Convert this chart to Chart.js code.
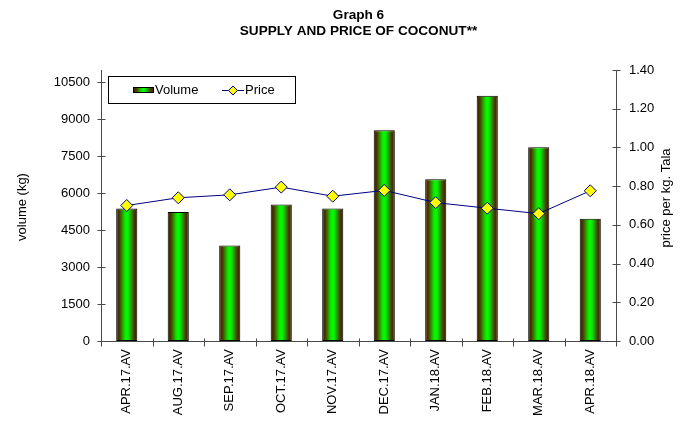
<!DOCTYPE html>
<html lang="en">
<head>
<meta charset="UTF-8">
<title>Graph 6 - Supply and price of coconut</title>
<style>
  html, body { margin: 0; padding: 0; background: #fff; }
  #wrap { width: 685px; height: 421px; }
</style>
</head>
<body>
<div id="wrap"><canvas id="chart" width="685" height="421"></canvas></div>
<script src="https://cdn.jsdelivr.net/npm/chart.js@4.4.1/dist/chart.umd.min.js"></script>
<script>
var months = ["APR.17.AV", "AUG.17.AV", "SEP.17.AV", "OCT.17.AV", "NOV.17.AV",
              "DEC.17.AV", "JAN.18.AV", "FEB.18.AV", "MAR.18.AV", "APR.18.AV"];
var volume = [5380, 5240, 3880, 5540, 5380, 8550, 6570, 9950, 7860, 4960];
var price = [0.70, 0.74, 0.755, 0.795, 0.748, 0.778, 0.715, 0.686, 0.658, 0.776];

var volumeTicks = [0, 1500, 3000, 4500, 6000, 7500, 9000, 10500];
var priceTicks = [0, 0.2, 0.4, 0.6, 0.8, 1.0, 1.2, 1.4];
var volumeMax = 11000, priceMax = 1.4;

var FONT = "Arial, 'Liberation Sans', sans-serif";

function barGradient(ctx, x0, x1) {
  var g = ctx.createLinearGradient(x0, 0, x1, 0);
  g.addColorStop(0, "#3a2000");
  g.addColorStop(0.15, "#4a3800");
  g.addColorStop(0.4, "#10e000");
  g.addColorStop(0.5, "#00ff00");
  g.addColorStop(0.6, "#10e000");
  g.addColorStop(0.85, "#4a3800");
  g.addColorStop(1, "#3a2000");
  return g;
}

// fill each bar with the brown-green-brown gradient (own options object per bar)
var gradientBars = {
  id: "gradientBars",
  beforeDatasetsDraw: function (chart) {
    var meta = chart.getDatasetMeta(0);
    meta.data.forEach(function (bar) {
      var g = barGradient(chart.ctx, bar.x - bar.width / 2, bar.x + bar.width / 2);
      bar.options = Object.assign({}, bar.options, { backgroundColor: g });
    });
  }
};

// axes lines + tick marks like excel (crossing)
var excelAxes = {
  id: "excelAxes",
  afterDraw: function (chart) {
    var ctx = chart.ctx, a = chart.chartArea;
    var y = chart.scales.y, y1 = chart.scales.y1;
    ctx.save();
    ctx.strokeStyle = "#4a4a4a";
    ctx.lineWidth = 1;
    ctx.beginPath();
    var lx = Math.round(a.left) + 0.5, rx = Math.round(a.right) + 0.5, by = Math.round(a.bottom) + 0.5;
    ctx.moveTo(lx, a.top); ctx.lineTo(lx, by);
    ctx.moveTo(rx, a.top); ctx.lineTo(rx, by);
    ctx.moveTo(lx, by); ctx.lineTo(rx, by);
    volumeTicks.forEach(function (v) {
      var py = Math.round(y.getPixelForValue(v)) + 0.5;
      ctx.moveTo(lx - 4, py); ctx.lineTo(lx + 4, py);
    });
    priceTicks.forEach(function (v) {
      var qy = Math.round(y1.getPixelForValue(v)) + 0.5;
      ctx.moveTo(rx - 4, qy); ctx.lineTo(rx + 4, qy);
    });
    var n = months.length, cw = (a.right - a.left) / n;
    for (var k = 0; k <= n; k++) {
      var tx = Math.round(a.left + k * cw) + 0.5;
      ctx.moveTo(tx, by - 3); ctx.lineTo(tx, by + 5);
    }
    ctx.stroke();
    ctx.restore();
  }
};

// titles, axis titles and the boxed legend
var decorations = {
  id: "decorations",
  afterDraw: function (chart) {
    var ctx = chart.ctx, a = chart.chartArea;
    var cx = (a.left + a.right) / 2;
    ctx.save();
    ctx.fillStyle = "#000";
    ctx.textAlign = "center";
    ctx.textBaseline = "middle";
    ctx.font = "bold 13.6px " + FONT;
    ctx.fillText("Graph 6", cx, 15);
    ctx.fillText("SUPPLY AND PRICE OF COCONUT**", cx, 31);

    ctx.font = "13px " + FONT;
    ctx.save();
    ctx.translate(22, 207);
    ctx.rotate(-Math.PI / 2);
    ctx.fillText("volume (kg)", 0, 0);
    ctx.restore();
    ctx.save();
    ctx.translate(666, 198);
    ctx.rotate(-Math.PI / 2);
    ctx.fillText("price per kg. Tala", 0, 0);
    ctx.restore();

    // legend
    ctx.fillStyle = "#fff";
    ctx.fillRect(108, 76, 187, 27);
    ctx.strokeStyle = "#000";
    ctx.lineWidth = 1;
    ctx.strokeRect(108.5, 76.5, 187, 27);
    ctx.fillStyle = barGradient(ctx, 133, 154);
    ctx.fillRect(133, 87, 21, 6);
    ctx.strokeRect(133.5, 87.5, 20, 5);
    ctx.fillStyle = "#000";
    ctx.textAlign = "left";
    ctx.fillText("Volume", 155, 90);
    ctx.strokeStyle = "#000080";
    ctx.beginPath();
    ctx.moveTo(222, 90.5); ctx.lineTo(244, 90.5);
    ctx.stroke();
    ctx.beginPath();
    ctx.moveTo(233, 86); ctx.lineTo(237.5, 90.5); ctx.lineTo(233, 95); ctx.lineTo(228.5, 90.5);
    ctx.closePath();
    ctx.fillStyle = "#ffff00";
    ctx.fill();
    ctx.stroke();
    ctx.fillStyle = "#000";
    ctx.fillText("Price", 245, 90);
    ctx.restore();
  }
};

new Chart(document.getElementById("chart"), {
  type: "bar",
  data: {
    labels: months,
    datasets: [{
      type: "bar",
      label: "Volume",
      data: volume,
      yAxisID: "y",
      backgroundColor: "#00ff00",
      borderColor: "#000",
      borderWidth: 1,
      borderSkipped: false,
      categoryPercentage: 1,
      barPercentage: 0.41,
      order: 1
    }, {
      type: "line",
      label: "Price",
      data: price,
      yAxisID: "y1",
      borderColor: "#000080",
      borderWidth: 1,
      pointStyle: "rectRot",
      pointRadius: 6,
      pointBackgroundColor: "#ffff00",
      pointBorderColor: "#000080",
      pointBorderWidth: 1,
      tension: 0,
      order: 0
    }]
  },
  options: {
    responsive: false,
    animation: false,
    layout: { padding: { top: 70, left: 0, right: 0, bottom: 0 } },
    plugins: {
      legend: { display: false },
      title: { display: false },
      tooltip: { enabled: false }
    },
    scales: {
      x: {
        grid: { display: false, drawTicks: false, tickLength: 0 },
        border: { display: false },
        ticks: {
          minRotation: 90, maxRotation: 90, padding: 8, autoSkip: false,
          color: "#000", font: { family: FONT, size: 13 }
        },
        afterFit: function (s) { s.height = 80; }
      },
      y: {
        position: "left",
        min: 0, max: volumeMax,
        grid: { display: false, drawTicks: false, tickLength: 0 },
        border: { display: false },
        ticks: {
          padding: 11, color: "#000", font: { family: FONT, size: 13 },
          callback: function (v) { return String(v); }
        },
        afterBuildTicks: function (s) { s.ticks = volumeTicks.map(function (v) { return { value: v }; }); },
        afterFit: function (s) { s.width = 101; }
      },
      y1: {
        position: "right",
        min: 0, max: priceMax,
        grid: { display: false, drawTicks: false, tickLength: 0 },
        border: { display: false },
        ticks: {
          padding: 13, color: "#000", font: { family: FONT, size: 13 },
          callback: function (v) { return Number(v).toFixed(2); }
        },
        afterBuildTicks: function (s) { s.ticks = priceTicks.map(function (v) { return { value: v }; }); },
        afterFit: function (s) { s.width = 69; }
      }
    }
  },
  plugins: [gradientBars, excelAxes, decorations]
});
</script>
</body>
</html>
